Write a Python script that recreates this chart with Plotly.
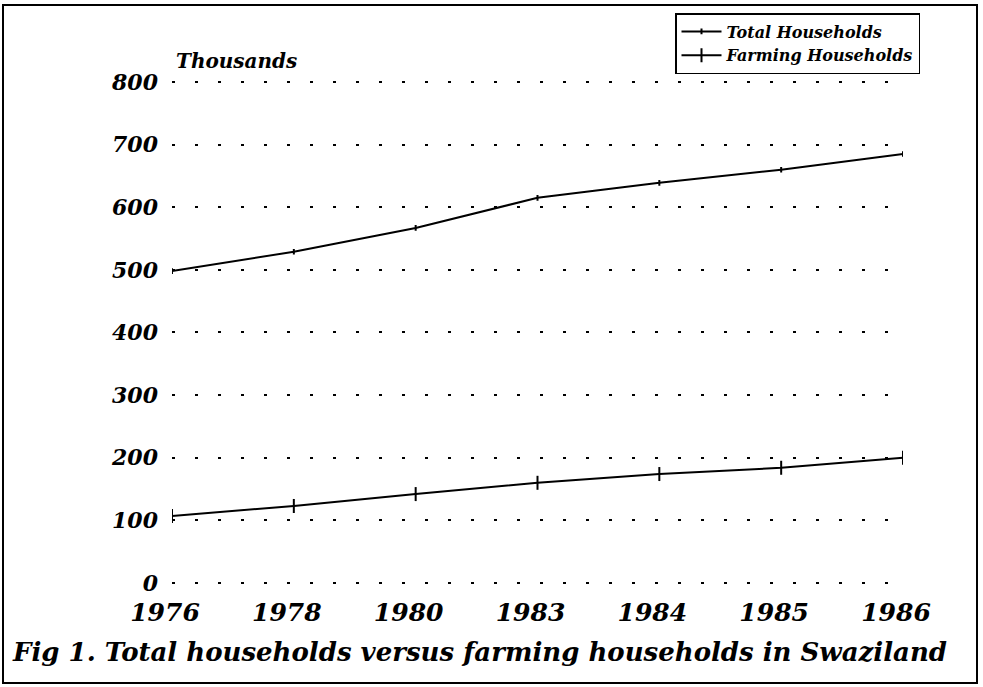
import plotly.graph_objects as go

years = ["1976", "1978", "1980", "1983", "1984", "1985", "1986"]
total_households = [498, 529, 567, 615, 639, 660, 685]
farming_households = [107, 123, 142, 160, 174, 184, 200]
y_ticks = [0, 100, 200, 300, 400, 500, 600, 700, 800]

W, H = 983, 687
FONT = "DejaVu Serif"

fig = go.Figure()
fig.add_trace(go.Scatter(
    x=years, y=total_households, name="Total Households",
    mode="lines+markers",
    line=dict(color="black", width=2),
    marker=dict(symbol="line-ns", size=4, line=dict(color="black", width=2)),
))
fig.add_trace(go.Scatter(
    x=years, y=farming_households, name="Farming Households",
    mode="lines+markers",
    line=dict(color="black", width=2),
    marker=dict(symbol="line-ns", size=10, line=dict(color="black", width=2)),
))

# pixel geometry: x categories from 172 to 903; y 0 at 583, 800 at 82
x0, x1 = 172 / W, 903 / W
pp = (583 - 82) / 800.0
ylo, yhi = -2, 802
y0 = 1 - (583 + (0 - ylo) * pp) / H
y1 = 1 - (82 - (yhi - 800) * pp) / H

fig.update_layout(
    width=W, height=H,
    margin=dict(l=0, r=0, t=0, b=0),
    paper_bgcolor="white", plot_bgcolor="white",
    font=dict(family=FONT, color="black"),
    showlegend=True,
    legend=dict(
        x=675 / W, y=1 - 13 / H, xanchor="left", yanchor="top",
        bordercolor="black", borderwidth=1.5, bgcolor="white",
        font=dict(family=FONT, size=16, style="italic", weight="bold"),
        tracegroupgap=0, itemwidth=40,
    ),
    xaxis=dict(
        domain=[x0, x1], type="category", range=[0, 6],
        showgrid=False, zeroline=False, showline=False, ticks="",
        tickfont=dict(family=FONT, size=25, style="italic", weight="bold"),
        automargin=False, ticklabelstandoff=11, ticklabelshift=-7,
    ),
    yaxis=dict(
        domain=[y0, y1], range=[ylo, yhi], tickvals=y_ticks,
        showgrid=True, gridcolor="black", gridwidth=2, griddash="3px,20px",
        zeroline=False, showline=False, ticks="",
        tickfont=dict(family=FONT, size=22, style="italic", weight="bold"),
        automargin=False, ticklabelstandoff=13,
    ),
)

fig.add_annotation(
    text="Thousands", xref="paper", yref="paper",
    x=174 / W, y=1 - 61 / H, xanchor="left", yanchor="middle",
    showarrow=False,
    font=dict(family=FONT, size=20, style="italic", weight="bold"),
)
fig.add_annotation(
    text="Fig 1. Total households versus farming households in Swaziland",
    xref="paper", yref="paper",
    x=10 / W, y=1 - 652 / H, xanchor="left", yanchor="middle",
    showarrow=False,
    font=dict(family=FONT, size=26, style="italic", weight="bold"),
)
fig.add_shape(
    type="rect", xref="paper", yref="paper",
    x0=3 / W, x1=977 / W, y0=1 - 683 / H, y1=1 - 5 / H,
    line=dict(color="black", width=2),
)

fig.write_html("out.html")
